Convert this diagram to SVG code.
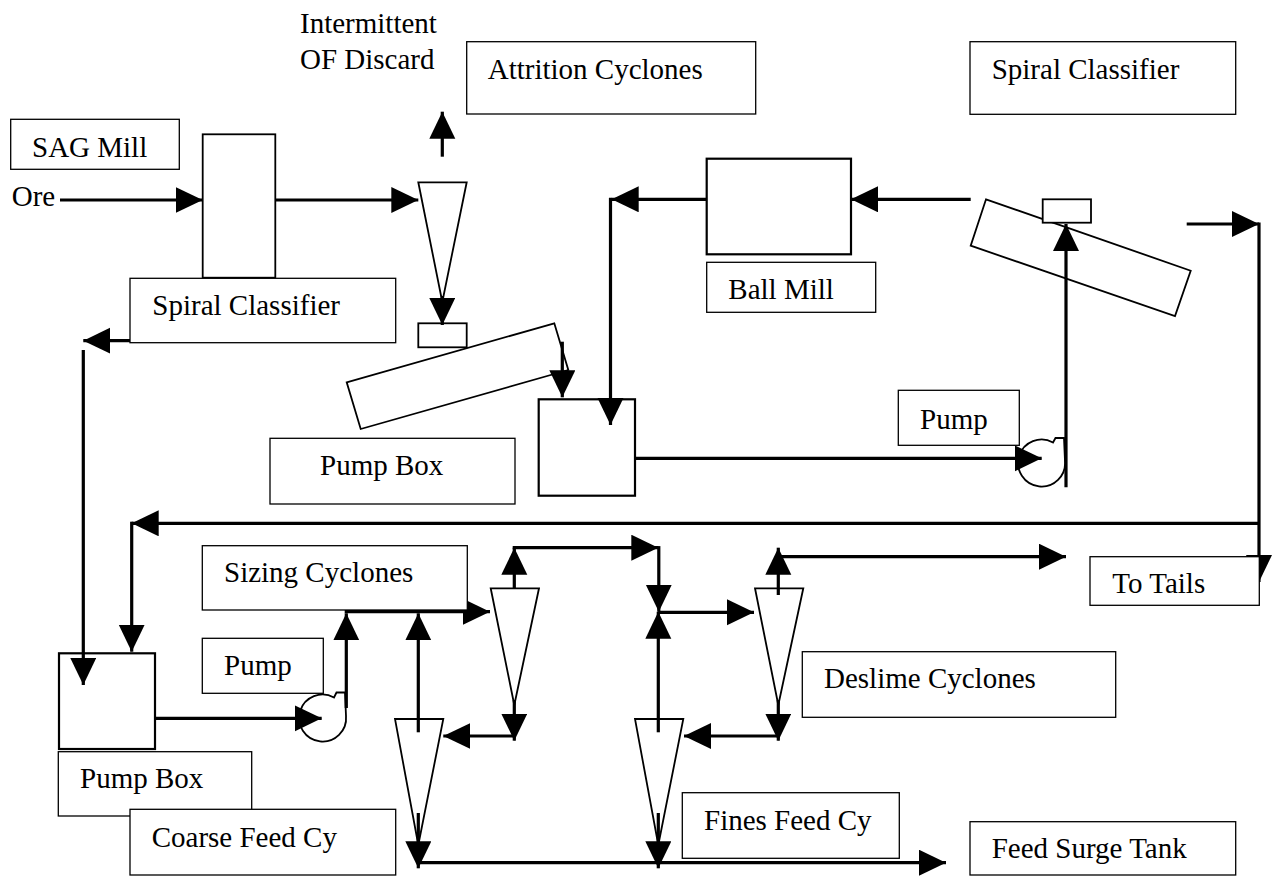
<svg xmlns="http://www.w3.org/2000/svg" width="1272" height="876" viewBox="0 0 1272 876">
<style>
text{font-family:"Liberation Serif","Times New Roman",serif;font-size:29px;fill:#000}
.lb{fill:#fff;stroke:#000;stroke-width:1.3}
.eq{fill:#fff;stroke:#000;stroke-width:2.2}
.cn{fill:#fff;stroke:#000;stroke-width:1.8}
.c{fill:none;stroke:#000;stroke-width:3.2}
.a{marker-end:url(#ah)}
</style>
<defs>
<marker id="ah" markerUnits="userSpaceOnUse" markerWidth="28" markerHeight="27" refX="27" refY="13" orient="auto">
<path d="M0,0 L27,13 L0,26 Z" fill="#000"/>
</marker>
</defs>
<rect width="1272" height="876" fill="#fff"/>

<g id="equipment">
<g id="sag-mill-body"><rect class="eq" x="202.7" y="134.3" width="72.6" height="143.4" style="stroke-width:1.8"/></g>
<g id="attrition-cyclone"><polygon class="cn" points="418.3,182.3 466.7,182.3 442.3,302"/></g>
<g id="left-spiral"><polygon class="cn" points="346.7,382.3 554.3,323.3 568.3,370 360.7,429"/><rect class="cn" x="418.3" y="323.3" width="48.4" height="24"/></g>
<g id="pump-box-upper"><rect class="eq" x="538.7" y="399.3" width="96.3" height="96.4"/></g>
<g id="ball-mill-body"><rect class="eq" x="706.7" y="158.7" width="144.3" height="95.6"/></g>
<g id="right-spiral"><polygon class="cn" points="986,199.3 1190.7,270.7 1175,316 970.7,245.7"/><rect class="cn" x="1042.7" y="199.3" width="48.3" height="23.4"/></g>
<g id="pump-upper"><path class="cn" d="M1053,442.5 A23.5,23.5 0 1 0 1065,461 L1064,438 L1055.5,438 Z"/></g>
<g id="pump-box-lower"><rect class="eq" x="59" y="653.3" width="96" height="95.7"/></g>
<g id="pump-lower"><path class="cn" d="M334,697.5 A23.5,23.5 0 1 0 346,716 L345,692.5 L336.5,692.5 Z"/></g>
<g id="sizing-cyclone"><polygon class="cn" points="490.7,588.3 539,588.3 514.3,705"/></g>
<g id="deslime-cyclone"><polygon class="cn" points="755,588.3 803.3,588.3 778.3,705"/></g>
<g id="coarse-cyclone"><polygon class="cn" points="395,719 443.3,719 418.3,845"/></g>
<g id="fines-cyclone"><polygon class="cn" points="635,719 683.3,719 658.3,845"/></g>
</g>

<g id="connectors">
<path class="c a" d="M60,200 H202.7"/>
<path class="c a" d="M275.3,200 H418.3"/>
<path class="c a" d="M442.3,156.7 V111.7"/>
<path class="c a" d="M442.3,296 V325"/>
<path class="c a" d="M562.3,341.7 V397.3"/>
<path class="c a" d="M706.7,199.3 H611.7"/>
<path class="c a" d="M610.5,197.7 V425"/>
<path class="c a" d="M970.7,199.3 H851"/>
<path class="c a" d="M1066,487.3 V224"/>
<path class="c a" d="M1186.7,224 H1259"/>
<path class="c a" d="M1259,222.4 V582"/>
<path class="c a" d="M1259,523.3 H131.7"/>
<path class="c a" d="M131.7,521.7 V651.7"/>
<path class="c a" d="M635,458.3 H1041.7"/>
<path class="c a" d="M130,340.7 H83.3"/>
<path class="c a" d="M83.3,350 V685"/>
<path class="c a" d="M155,718.3 H321.7"/>
<path class="c a" d="M346.3,708 V613.3"/>
<path class="c a" d="M344.7,611.7 H490"/>
<path class="c a" d="M418.3,732.3 V613.3"/>
<path class="c a" d="M514.3,588.3 V547.7"/>
<path class="c a" d="M512.7,547.7 H658.3"/>
<path class="c a" d="M658.8,546.1 V611.7"/>
<path class="c a" d="M658.3,732.3 V611.7"/>
<path class="c a" d="M658.3,612.3 H754"/>
<path class="c a" d="M778.3,595 V547.7"/>
<path class="c a" d="M778.3,556.7 H1066"/>
<path class="c a" d="M514.3,700 V740.7"/>
<path class="c a" d="M514.3,736 H443.3"/>
<path class="c a" d="M778.3,700 V740.7"/>
<path class="c a" d="M778.3,736 H684"/>
<path class="c a" d="M418.3,813 V868.3"/>
<path class="c a" d="M658.3,813 V868.3"/>
<path class="c a" d="M418.3,862.7 H946"/>
</g>

<g id="labels">
<g id="lbl-intermittent"><text x="300" y="32.7">Intermittent</text><text x="300" y="69.3">OF Discard</text></g>
<g id="lbl-ore"><text x="11.7" y="206">Ore</text></g>
<g id="lbl-sag-mill"><rect class="lb" x="10.7" y="119.3" width="168.6" height="50"/><text x="32" y="156.7">SAG Mill</text></g>
<g id="lbl-attrition"><rect class="lb" x="466.7" y="41.7" width="289" height="72.3"/><text x="487.7" y="79">Attrition Cyclones</text></g>
<g id="lbl-spiral-right"><rect class="lb" x="970" y="41.7" width="265.7" height="72.6"/><text x="991.7" y="79">Spiral Classifier</text></g>
<g id="lbl-spiral-left"><rect class="lb" x="130" y="278.3" width="265.7" height="64.4"/><text x="152.3" y="315">Spiral Classifier</text></g>
<g id="lbl-ball-mill"><rect class="lb" x="706.7" y="262.3" width="169" height="50"/><text x="728.3" y="299.3">Ball Mill</text></g>
<g id="lbl-pump-box-upper"><rect class="lb" x="270" y="438.3" width="245" height="65.7"/><text x="320" y="475">Pump Box</text></g>
<g id="lbl-pump-upper"><rect class="lb" x="898.3" y="390.3" width="121" height="55"/><text x="920" y="429">Pump</text></g>
<g id="lbl-to-tails"><rect class="lb" x="1090" y="556.7" width="169.3" height="48.6"/><text x="1112.3" y="593.3">To Tails</text></g>
<g id="lbl-sizing"><rect class="lb" x="202.3" y="545.7" width="265" height="64.3"/><text x="224" y="581.7">Sizing Cyclones</text></g>
<g id="lbl-pump-lower"><rect class="lb" x="202.3" y="638.3" width="121" height="55"/><text x="224" y="675">Pump</text></g>
<g id="lbl-deslime"><rect class="lb" x="802.3" y="651.7" width="313.4" height="65.6"/><text x="824" y="688.3">Deslime Cyclones</text></g>
<g id="lbl-pump-box-lower"><rect class="lb" x="58.3" y="751.7" width="193.4" height="64.3"/><text x="80" y="788.3">Pump Box</text></g>
<g id="lbl-coarse"><rect class="lb" x="130" y="809.3" width="265.7" height="65.7"/><text x="151.7" y="846.7">Coarse Feed Cy</text></g>
<g id="lbl-fines"><rect class="lb" x="682.3" y="792.7" width="217" height="65.6"/><text x="704" y="830">Fines Feed Cy</text></g>
<g id="lbl-feed-surge"><rect class="lb" x="970" y="821.7" width="265.7" height="53.3"/><text x="991.7" y="858.3">Feed Surge Tank</text></g>
</g>
</svg>
